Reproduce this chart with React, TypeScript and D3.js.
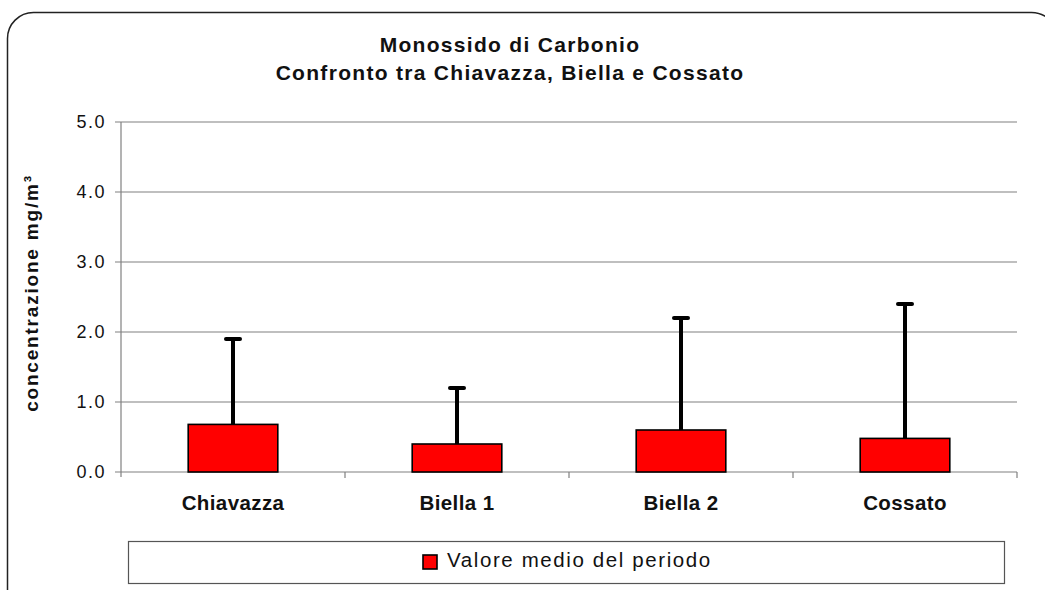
import React, { useRef, useEffect } from "react";
import * as d3 from "d3";

const categories = ["Chiavazza", "Biella 1", "Biella 2", "Cossato"];
const meanValues = [0.68, 0.4, 0.6, 0.48];
const maxValues = [1.9, 1.2, 2.2, 2.4];
const yTicks = [0, 1, 2, 3, 4, 5];
const titleLines = ["Monossido di Carbonio", "Confronto tra Chiavazza, Biella e Cossato"];
const yLabel = "concentrazione mg/m³";
const legendLabel = "Valore medio del periodo";

export default function App() {
  const ref = useRef<SVGSVGElement>(null);

  useEffect(() => {
    if (!ref.current) return;
    const svg = d3.select(ref.current);
    svg.selectAll("*").remove();

    const font = "'Liberation Sans', Arial, sans-serif";
    const plot = { left: 121, right: 1017, top: 122, bottom: 472 };

    // outer rounded frame (runs off the right/bottom edges)
    svg
      .append("rect")
      .attr("x", 7.5)
      .attr("y", 12.5)
      .attr("width", 1050)
      .attr("height", 620)
      .attr("rx", 26)
      .attr("fill", "white")
      .attr("stroke", "#222")
      .attr("stroke-width", 1.5);

    const x = d3
      .scaleBand<string>()
      .domain(categories)
      .range([plot.left, plot.right]);
    const y = d3.scaleLinear().domain([0, 5]).range([plot.bottom, plot.top]);

    // gridlines + left ticks
    svg
      .append("g")
      .selectAll("line")
      .data(yTicks)
      .enter()
      .append("line")
      .attr("x1", plot.left - 6)
      .attr("x2", plot.right)
      .attr("y1", (d) => y(d))
      .attr("y2", (d) => y(d))
      .attr("stroke", "#808080")
      .attr("stroke-width", 1.2);

    // y tick labels
    svg
      .append("g")
      .selectAll("text")
      .data(yTicks)
      .enter()
      .append("text")
      .attr("x", 106)
      .attr("y", (d) => y(d) + 6)
      .attr("text-anchor", "end")
      .attr("font-family", font)
      .attr("font-size", 18)
      .attr("letter-spacing", 1.5)
      .attr("fill", "#111")
      .text((d) => d.toFixed(1));

    // y axis line
    svg
      .append("line")
      .attr("x1", plot.left)
      .attr("x2", plot.left)
      .attr("y1", plot.top)
      .attr("y2", plot.bottom + 5)
      .attr("stroke", "#808080")
      .attr("stroke-width", 1.2);

    // x ticks at band boundaries
    const boundaries = categories.map((c) => x(c)!).concat([plot.right]);
    svg
      .append("g")
      .selectAll("line")
      .data(boundaries.slice(1))
      .enter()
      .append("line")
      .attr("x1", (d) => d)
      .attr("x2", (d) => d)
      .attr("y1", plot.bottom)
      .attr("y2", plot.bottom + 6)
      .attr("stroke", "#808080")
      .attr("stroke-width", 1.2);

    const barW = x.bandwidth() * 0.4;

    // error bars (behind bars)
    const err = svg.append("g");
    categories.forEach((c, i) => {
      const cx = x(c)! + x.bandwidth() / 2;
      err
        .append("line")
        .attr("x1", cx)
        .attr("x2", cx)
        .attr("y1", y(meanValues[i]))
        .attr("y2", y(maxValues[i]))
        .attr("stroke", "black")
        .attr("stroke-width", 4);
      err
        .append("line")
        .attr("x1", cx - 7)
        .attr("x2", cx + 7)
        .attr("y1", y(maxValues[i]))
        .attr("y2", y(maxValues[i]))
        .attr("stroke", "black")
        .attr("stroke-width", 4)
        .attr("stroke-linecap", "round");
    });

    // bars
    svg
      .append("g")
      .selectAll("rect")
      .data(categories)
      .enter()
      .append("rect")
      .attr("x", (c) => x(c)! + (x.bandwidth() - barW) / 2)
      .attr("y", (c, i) => y(meanValues[i]))
      .attr("width", barW)
      .attr("height", (c, i) => plot.bottom - y(meanValues[i]))
      .attr("fill", "#ff0000")
      .attr("stroke", "black")
      .attr("stroke-width", 1.6);

    // category labels
    svg
      .append("g")
      .selectAll("text")
      .data(categories)
      .enter()
      .append("text")
      .attr("x", (c) => x(c)! + x.bandwidth() / 2)
      .attr("y", 510)
      .attr("text-anchor", "middle")
      .attr("font-family", font)
      .attr("font-size", 20.5)
      .attr("font-weight", "bold")
      .attr("letter-spacing", 0.4)
      .attr("fill", "#111")
      .text((c) => c);

    // title
    svg
      .append("g")
      .selectAll("text")
      .data(titleLines)
      .enter()
      .append("text")
      .attr("x", 510)
      .attr("y", (d, i) => 52 + i * 28)
      .attr("text-anchor", "middle")
      .attr("font-family", font)
      .attr("font-size", 21)
      .attr("font-weight", "bold")
      .attr("letter-spacing", 1.3)
      .attr("fill", "#111")
      .text((d) => d);

    // y label
    svg
      .append("text")
      .attr("transform", `translate(38,${(plot.top + plot.bottom) / 2 - 4}) rotate(-90)`)
      .attr("text-anchor", "middle")
      .attr("font-family", font)
      .attr("font-size", 19)
      .attr("font-weight", "bold")
      .attr("letter-spacing", 1.8)
      .attr("fill", "#111")
      .text(yLabel);

    // legend
    svg
      .append("rect")
      .attr("x", 128.5)
      .attr("y", 541.5)
      .attr("width", 876)
      .attr("height", 42)
      .attr("fill", "white")
      .attr("stroke", "#555")
      .attr("stroke-width", 1.2);
    svg
      .append("rect")
      .attr("x", 423)
      .attr("y", 555)
      .attr("width", 14)
      .attr("height", 14)
      .attr("fill", "#ff0000")
      .attr("stroke", "black")
      .attr("stroke-width", 1.6);
    svg
      .append("text")
      .attr("x", 447)
      .attr("y", 567)
      .attr("font-family", font)
      .attr("font-size", 20.5)
      .attr("letter-spacing", 1.6)
      .attr("fill", "#111")
      .text(legendLabel);
  }, []);

  return (
    <svg
      ref={ref}
      width={1045}
      height={590}
      style={{ position: "absolute", left: 0, top: 0, display: "block" }}
    />
  );
}
